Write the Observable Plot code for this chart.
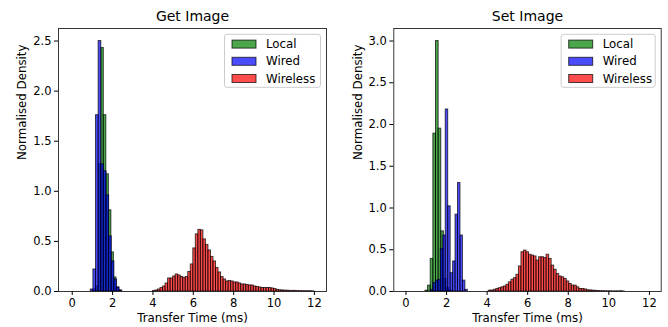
<!DOCTYPE html>
<html><head><meta charset="utf-8">
<script src="https://cdn.jsdelivr.net/npm/d3@7"></script>
<script src="https://cdn.jsdelivr.net/npm/@observablehq/plot@0.6"></script>
<style>
body{margin:0;background:#fff}
#wrap{display:flex;width:668px;height:327px}
</style>
</head><body><div id="wrap"></div>
<script>
// ---------- data ----------
const seriesNames = ["Local", "Wired", "Wireless"];
const seriesColors = ["#008000", "#0000ff", "#ff0000"];
const xTicks = [0, 2, 4, 6, 8, 10, 12];
const getYTicks = [0, 0.5, 1, 1.5, 2, 2.5];
const setYTicks = [0, 0.5, 1, 1.5, 2, 2.5, 3];
const titles = ["Get Image", "Set Image"];
const xLabel = "Transfer Time (ms)";
const yLabel = "Normalised Density";

// Get Image histograms: first bin edge, bin width, density per bin
const getLocalStart = 0.94, getLocalWidth = 0.125;
const getLocal = [0.0, 0.02, 0.05, 1.27, 2.43, 1.76, 1.17, 0.81, 0.39, 0.14, 0.04, 0.01];
const getWiredStart = 0.92, getWiredWidth = 0.13;
const getWired = [0.02, 0.22, 1.76, 2.5, 1.27, 1.2, 0.96, 0.55, 0.3, 0.12, 0.04, 0.01];
const getWirelessStart = 4.0, getWirelessWidth = 0.125;
const getWireless = [
  0.005, 0.01, 0.02, 0.035, 0.05, 0.08, 0.13, 0.13, 0.15, 0.17, 0.16, 0.145, 0.135, 0.145, 0.195, 0.27,
  0.43, 0.57, 0.615, 0.61, 0.52, 0.465, 0.41, 0.345, 0.30, 0.235, 0.19, 0.145, 0.12, 0.10, 0.105, 0.10,
  0.09, 0.09, 0.08, 0.07, 0.07, 0.065, 0.06, 0.06, 0.05, 0.045, 0.04, 0.035, 0.035, 0.035, 0.035, 0.03,
  0.025, 0.015, 0.012, 0.01, 0.008, 0.008, 0.005, 0.006, 0.006, 0.004, 0.004, 0.003, 0.003, 0.003, 0.003, 0.002
];

// Set Image histograms
const setLocalStart = 0.96, setLocalWidth = 0.13;
const setLocal = [0.01, 0.07, 0.39, 1.89, 3.0, 1.95, 0.72, 0.15, 0.04, 0.01];
const setWiredStart = 1.234, setWiredWidth = 0.121;
const setWired = [0.02, 0.10, 0.13, 0.14, 0.51, 0.67, 2.18, 1.02, 0.22, 0.36, 0.92, 1.30, 0.67, 0.13, 0.02];
const setWirelessStart = 4.08, setWirelessWidth = 0.124;
const setWireless = [
  0.01, 0.01, 0.02, 0.03, 0.04, 0.05, 0.06, 0.08, 0.11, 0.14, 0.16, 0.2, 0.3, 0.47, 0.49, 0.47,
  0.44, 0.43, 0.42, 0.37, 0.41, 0.41, 0.40, 0.44, 0.39, 0.31, 0.26, 0.21, 0.18, 0.17, 0.15, 0.12,
  0.09, 0.07, 0.07, 0.05, 0.03, 0.03, 0.025, 0.015, 0.012, 0.01, 0.008, 0.006, 0.004, 0.004, 0.003,
  0.002, 0.002, 0.001, 0.002, 0.001, 0.003, 0.001
];

// ---------- build tables ----------
function bins(name, start, width, heights) {
  return heights.map((h, i) => ({series: name, x1: start + i * width, x2: start + (i + 1) * width, y: h}));
}
const getData = [
  ...bins("Local", getLocalStart, getLocalWidth, getLocal),
  ...bins("Wired", getWiredStart, getWiredWidth, getWired),
  ...bins("Wireless", getWirelessStart, getWirelessWidth, getWireless)
];
const setData = [
  ...bins("Local", setLocalStart, setLocalWidth, setLocal),
  ...bins("Wired", setWiredStart, setWiredWidth, setWired),
  ...bins("Wireless", setWirelessStart, setWirelessWidth, setWireless)
];

// legend drawn inside the frame (top-right)
function legendMark(boxW) {
  return (index, scales, values, dims) => {
    const x0 = dims.width - dims.marginRight - 5.5 - boxW;
    const y0 = dims.marginTop + 6.3;
    const g = d3.create("svg:g");
    g.append("rect").attr("x", x0).attr("y", y0).attr("width", boxW).attr("height", 53)
      .attr("rx", 2.5).attr("fill", "white").attr("fill-opacity", 0.8)
      .attr("stroke", "#cccccc").attr("stroke-width", 1);
    seriesNames.forEach((s, i) => {
      const cy = y0 + 9.8 + i * 17.2;
      g.append("rect").attr("x", x0 + 7.5).attr("y", cy - 4).attr("width", 24).attr("height", 8)
        .attr("fill", seriesColors[i]).attr("fill-opacity", 0.7)
        .attr("stroke", "black").attr("stroke-opacity", 0.7).attr("stroke-width", 1);
      g.append("text").attr("x", x0 + 41.5).attr("y", cy).attr("dy", "0.35em")
        .attr("text-anchor", "start")
        .attr("font-size", 11.8).attr("fill", "black").text(s);
    });
    return g.node();
  };
}

function panel(data, title, yTicks, yMax, xDomain, mLeft, mRight, boxW) {
  return Plot.plot({
    width: 334,
    height: 327,
    marginLeft: mLeft,
    marginRight: mRight,
    marginTop: 28,
    marginBottom: 36,
    style: {fontFamily: "DejaVu Sans", fontSize: "11px", color: "black", background: "white"},
    x: {domain: xDomain},
    y: {domain: [0, yMax]},
    color: {domain: seriesNames, range: seriesColors},
    marks: [
      Plot.rectY(data, {
        x1: "x1", x2: "x2", y1: 0, y2: "y", fill: "series", fillOpacity: 0.7,
        stroke: "black", strokeOpacity: 0.7, strokeWidth: 1
      }),
      Plot.frame({stroke: "#222", strokeWidth: 0.9}),
      Plot.axisX({ticks: xTicks, tickSize: 4, tickPadding: 3, label: null, fontSize: 11.5}),
      Plot.axisY({ticks: yTicks, tickSize: 4, tickPadding: 3, tickFormat: d3.format(".1f"),
        label: null, fontSize: 11.5}),
      Plot.text([xLabel], {text: d => d, frameAnchor: "bottom", dy: 27, lineAnchor: "middle", fontSize: 11.8}),
      Plot.text([yLabel], {text: d => d, frameAnchor: "left", dx: -36, rotate: -90, lineAnchor: "middle", fontSize: 11.8}),
      Plot.text([title], {text: d => d, frameAnchor: "top", dy: -12, lineAnchor: "middle", fontSize: 14}),
      legendMark(boxW)
    ]
  });
}

const wrap = document.getElementById("wrap");
wrap.append(panel(getData, titles[0], getYTicks, 2.625, [-0.68, 12.6], 58, 8, 96));
wrap.append(panel(setData, titles[1], setYTicks, 3.15, [-0.6, 12.58], 59.3, 7.3, 94));
</script>
</body></html>
